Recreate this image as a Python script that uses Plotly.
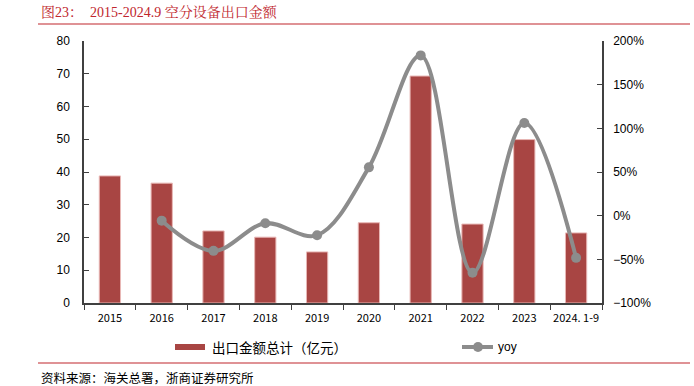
import plotly.graph_objects as go

categories = ["2015", "2016", "2017", "2018", "2019", "2020", "2021", "2022", "2023", "2024. 1-9"]
export_value = [38.8, 36.6, 22.0, 20.1, 15.6, 24.5, 69.3, 24.1, 49.9, 21.4]
yoy_pct = [None, -5.7, -40.3, -8.7, -22.4, 55.3, 183.5, -65.4, 106.2, -48.3]

bar_color = "#A84543"
line_color = "#8C8C8C"
red = "#C0262D"
axis_color = "#404040"

W, H = 694, 386
pl, pt = 84, 41
pr = W - 602
pb = H - 303
pw, ph = W - pl - pr, H - pt - pb


def px(x):
    return (x - pl) / pw


def py(y):
    return (H - pb - y) / ph


fig = go.Figure()
fig.add_trace(go.Bar(
    x=categories, y=export_value, name="出口金额总计（亿元）",
    marker=dict(color=bar_color, line=dict(color="#E8B7B5", width=1)),
    width=0.41, showlegend=False,
))
fig.add_trace(go.Scatter(
    x=categories, y=yoy_pct, name="yoy", yaxis="y2", mode="lines+markers",
    line=dict(color=line_color, width=4, shape="spline", smoothing=1.0),
    marker=dict(color=line_color, size=10), showlegend=False, connectgaps=False,
))

tick_font = dict(family="Liberation Sans, Arial, sans-serif", size=12, color="#000000")

fig.update_layout(
    width=W, height=H,
    margin=dict(l=pl, r=pr, t=pt, b=pb, pad=0),
    paper_bgcolor="white", plot_bgcolor="white",
    xaxis=dict(
        type="category", showgrid=False, showline=True, linecolor=axis_color, linewidth=1.5,
        ticks="outside", ticklen=5, tickcolor=axis_color, tickson="boundaries",
        tickangle=0, ticklabelstandoff=4,
        tickfont=dict(family="Noto Sans CJK SC, sans-serif", size=11, color="#000000"),
        range=[-0.5, 9.5],
    ),
    yaxis=dict(
        range=[0, 80], dtick=10, showgrid=False, showline=True, linecolor=axis_color, linewidth=1.5,
        ticks="inside", ticklen=5, tickcolor=axis_color, tickfont=tick_font, zeroline=False,
        ticklabelstandoff=10,
    ),
    yaxis2=dict(
        range=[-100, 200], dtick=50, overlaying="y", side="right", showgrid=False,
        showline=True, linecolor=axis_color, linewidth=1.5, ticks="inside", ticklen=5,
        tickcolor=axis_color, ticksuffix="%", tickfont=tick_font, zeroline=False,
        tickformat="d", ticklabelstandoff=7,
    ),
)

shapes = [
    dict(type="line", xref="paper", yref="paper", x0=px(38), x1=px(690), y0=py(24), y1=py(24),
         line=dict(color=red, width=1.2)),
    dict(type="line", xref="paper", yref="paper", x0=px(38), x1=px(690), y0=py(363), y1=py(363),
         line=dict(color=red, width=1.2)),
    dict(type="rect", xref="paper", yref="paper", x0=px(175), x1=px(205), y0=py(350), y1=py(344),
         fillcolor=bar_color, line=dict(width=0)),
    dict(type="line", xref="paper", yref="paper", x0=px(462), x1=px(493), y0=py(347), y1=py(347),
         line=dict(color=line_color, width=4)),
    dict(type="circle", xref="paper", yref="paper", x0=px(473), x1=px(483), y0=py(352), y1=py(342),
         fillcolor=line_color, line=dict(width=0)),
]
fig.update_layout(shapes=shapes)

annotations = [
    dict(text="图23：  2015-2024.9 空分设备出口金额", xref="paper", yref="paper",
         x=px(39), y=py(12), xanchor="left", yanchor="middle", showarrow=False,
         font=dict(family="Liberation Serif, Noto Serif CJK SC, Noto Sans CJK SC, serif", size=14, color=red)),
    dict(text="出口金额总计（亿元）", xref="paper", yref="paper",
         x=px(210), y=py(347), xanchor="left", yanchor="middle", showarrow=False,
         font=dict(family="Noto Sans CJK SC, sans-serif", size=13.5, color="#000000")),
    dict(text="yoy", xref="paper", yref="paper",
         x=px(496), y=py(347), xanchor="left", yanchor="middle", showarrow=False,
         font=dict(family="Liberation Sans, Arial, sans-serif", size=12, color="#000000")),
    dict(text="资料来源：海关总署，浙商证券研究所", xref="paper", yref="paper",
         x=px(39), y=py(377), xanchor="left", yanchor="middle", showarrow=False,
         font=dict(family="Noto Sans CJK SC, sans-serif", size=12.5, color="#000000")),
]
fig.update_layout(annotations=annotations)

fig.write_html("out.html", config={"displayModeBar": False},
               post_script="document.body.style.margin='0px';")
